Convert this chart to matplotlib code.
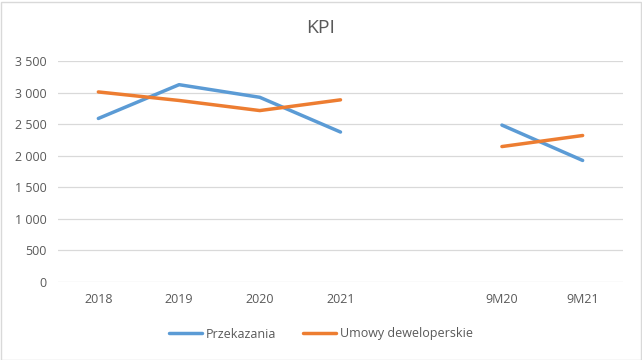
import numpy as np
import matplotlib
matplotlib.use("Agg")
import matplotlib.pyplot as plt
from matplotlib.patches import Rectangle

# dane (pusta kategoria = przerwa w liniach)
categories = ["2018", "2019", "2020", "2021", "", "9M20", "9M21"]
przekazania = [2590, 3125, 2925, 2375, np.nan, 2485, 1925]
umowy = [3010, 2875, 2715, 2885, np.nan, 2145, 2320]
yticks = [0, 500, 1000, 1500, 2000, 2500, 3000, 3500]

plt.rcParams['font.family'] = ['Open Sans', 'DejaVu Sans']

fig = plt.figure(figsize=(6.42, 3.6), dpi=100)
ax = fig.add_axes([58 / 642, 1 - 282 / 360, 565 / 642, 221 / 360])

x = np.arange(len(categories))
ax.plot(x, przekazania, color='#5B9BD5', lw=2.5, solid_capstyle='round', label='Przekazania')
ax.plot(x, umowy, color='#ED7D31', lw=2.5, solid_capstyle='round', label='Umowy deweloperskie')

ax.set_xlim(-0.5, len(categories) - 0.5)
ax.set_ylim(0, 3500)
ax.set_yticks(yticks)
ax.set_yticklabels([f"{v:,}".replace(",", " ") for v in yticks])
ax.set_xticks(x)
ax.set_xticklabels(categories)
ax.tick_params(length=0, labelsize=9, colors='#595959', pad=8)
ax.grid(axis='y', color='#D9D9D9', lw=0.9)
ax.set_axisbelow(True)
for s in ax.spines.values():
    s.set_visible(False)

fig.text(0.5, 1 - 28 / 360, "KPI", ha='center', va='center', fontsize=14, color='#595959')

fig.legend(loc='center', bbox_to_anchor=(0.5, 1 - 334 / 360), ncol=2, frameon=False,
           fontsize=9, labelcolor='#595959', handlelength=2.6, columnspacing=2.2,
           handletextpad=0.3)

fig.patches.append(Rectangle((0.5 / 642, 0.5 / 360), 640 / 642, 358 / 360, transform=fig.transFigure,
                             fill=False, edgecolor='#D9D9D9', lw=1))

fig.savefig("out.png", dpi=100)
